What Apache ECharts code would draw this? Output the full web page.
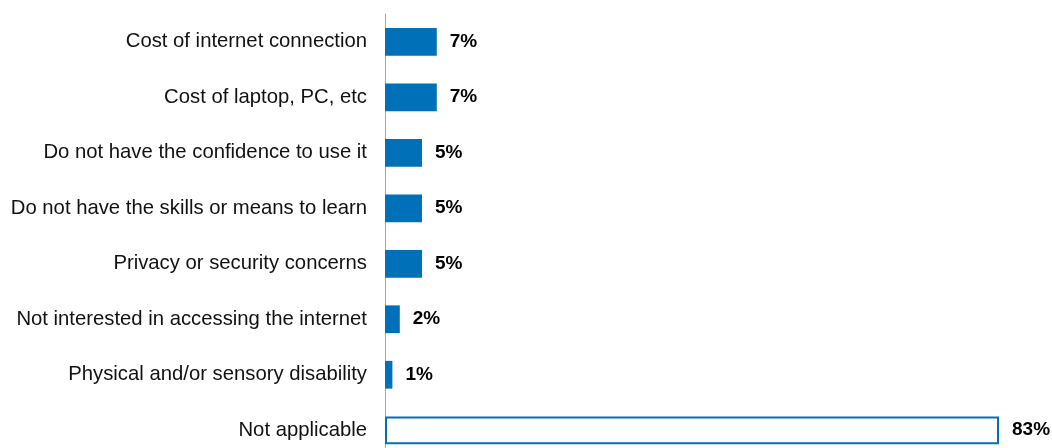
<!DOCTYPE html>
<html>
<head>
<meta charset="utf-8">
<script src="https://cdn.jsdelivr.net/npm/echarts@6/dist/echarts.min.js"></script>
<style>
  html, body { margin: 0; padding: 0; background: #ffffff; overflow: hidden; }
  #chart { width: 1052px; height: 460px; }
</style>
</head>
<body>
<div id="chart"></div>
<script>
// Barriers to internet access (% of respondents)
const categories = [
  'Cost of internet connection',
  'Cost of laptop, PC, etc',
  'Do not have the confidence to use it',
  'Do not have the skills or means to learn',
  'Privacy or security concerns',
  'Not interested in accessing the internet',
  'Physical and/or sensory disability',
  'Not applicable'
];
const values = [7, 7, 5, 5, 5, 2, 1, 83];
// Last category is drawn as an outlined bar
const outlinedCategory = 'Not applicable';

const BLUE = '#0070B8';

const chart = echarts.init(document.getElementById('chart'), null, { renderer: 'canvas' });

const data = categories.map((c, i) => {
  const outlined = c === outlinedCategory;
  return {
    value: values[i],
    itemStyle: outlined
      ? { color: '#ffffff', borderColor: BLUE, borderWidth: 2 }
      : { color: BLUE }
  };
});

chart.setOption({
  animation: false,
  grid: { left: 385, top: 14, width: 614, height: 444, containLabel: false },
  xAxis: {
    type: 'value',
    min: 0,
    max: 83,
    show: false
  },
  yAxis: {
    type: 'category',
    inverse: true,
    data: categories,
    axisLine: { show: true, lineStyle: { color: '#A6A6A6', width: 1 } },
    axisTick: { show: false },
    axisLabel: {
      margin: 18,
      color: '#111111',
      fontFamily: 'Liberation Sans, Arial, sans-serif',
      fontSize: 20.3,
      padding: [4, 0, 0, 0]
    }
  },
  series: [{
    type: 'bar',
    data: data,
    barWidth: '50%',
    label: {
      show: true,
      position: 'right',
      distance: 13,
      formatter: p => p.value + '%',
      color: '#000000',
      fontFamily: 'Liberation Sans, Arial, sans-serif',
      fontWeight: 'bold',
      fontSize: 19,
      padding: [4, 0, 0, 0]
    }
  }]
});
</script>
</body>
</html>
